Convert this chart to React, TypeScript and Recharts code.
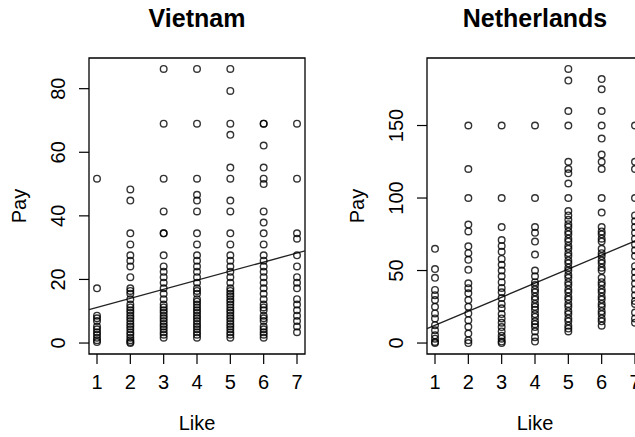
import React from 'react';
import { ScatterChart, Scatter, XAxis, YAxis, ReferenceArea, ReferenceLine } from 'recharts';

const FONT = '"Liberation Sans", Arial, Helvetica, sans-serif';

const likeLevels = [1, 2, 3, 4, 5, 6, 7];
const vietnamTicks = [0, 20, 40, 60, 80];
const netherlandsTicks = [0, 50, 100, 150];

// Vietnam pay values by Like level
const vnLike1 = [0.3, 0.9, 1.7, 2.6, 3.4, 4.3, 5.2, 6.9, 7.8, 8.6, 17.2, 51.7];
const vnLike2 = [0, 0.3, 0.9, 1.7, 2.6, 3.4, 4.3, 5.2, 6.0, 6.9, 7.8, 8.6, 9.5, 10.3, 11.2, 12.1, 13.8, 15.5, 16.4, 17.2, 20.7, 24.1, 25.9, 27.6, 31.0, 34.5, 44.8, 48.3];
const vnLike3 = [1.7, 2.6, 3.4, 4.3, 5.2, 6.0, 6.9, 7.8, 8.6, 9.5, 10.3, 11.2, 12.1, 13.8, 15.5, 17.2, 19.0, 20.7, 22.4, 24.1, 27.6, 34.5, 34.5, 41.4, 51.7, 69.0, 86.2];
const vnLike4 = [1.7, 2.6, 3.4, 4.3, 5.2, 6.0, 6.9, 7.8, 8.6, 9.5, 10.3, 11.2, 12.1, 13.0, 13.8, 15.5, 16.4, 17.2, 19.0, 20.7, 22.4, 24.1, 25.9, 27.6, 31.0, 34.5, 41.4, 44.8, 46.6, 51.7, 69.0, 86.2];
const vnLike5 = [1.7, 2.6, 3.4, 4.3, 5.2, 6.0, 6.9, 7.8, 8.6, 9.5, 10.3, 11.2, 12.1, 13.0, 13.8, 14.7, 15.5, 16.4, 17.2, 19.0, 20.7, 22.4, 24.1, 25.9, 27.6, 31.0, 34.5, 41.4, 44.8, 51.7, 55.2, 65.5, 69.0, 79.3, 86.2];
const vnLike6 = [1.7, 2.6, 3.4, 4.3, 5.2, 6.9, 7.8, 8.6, 10.3, 11.2, 12.1, 13.8, 15.5, 17.2, 19.0, 20.7, 22.4, 24.1, 25.9, 27.6, 31.0, 34.5, 37.9, 41.4, 50.0, 51.7, 55.2, 62.1, 69.0, 69.0];
const vnLike7 = [3.4, 5.2, 6.9, 8.6, 10.3, 12.1, 13.8, 17.2, 19.0, 20.7, 24.1, 27.6, 32.8, 34.5, 51.7, 69.0];

// Netherlands pay values by Like level
const nlLike1 = [0, 0.7, 3, 5.3, 8.8, 12.3, 17, 20.4, 25, 29.6, 33, 36.6, 45, 51, 65];
const nlLike2 = [0, 1.9, 6.5, 11.2, 15.8, 20.4, 25, 29.6, 34.3, 37.8, 41.2, 50.5, 57.4, 62, 66.7, 77, 81.7, 100, 120, 150];
const nlLike3 = [0, 1, 3, 5, 8, 11, 14, 17, 20, 24, 27, 31, 35, 38, 42, 46, 50, 54, 58, 63, 67, 71, 80, 100, 150];
const nlLike4 = [1, 4, 8, 11, 13, 15, 18, 20, 23, 25, 27, 30, 32, 35, 37, 40, 42, 46, 50, 61, 70, 76, 80, 100, 150];
const nlLike5 = [8, 10, 12, 15, 17, 20, 22, 25, 27, 30, 32, 35, 37, 40, 42, 45, 47, 50, 52, 55, 57, 60, 62, 65, 67, 70, 72, 75, 77, 80, 82, 85, 88, 91, 100, 110, 117, 120, 125, 150, 160, 181, 189];
const nlLike6 = [12, 15, 17, 20, 22, 25, 27, 30, 32, 35, 37, 40, 42, 45, 50, 52, 55, 57, 60, 62, 65, 70, 72, 75, 77, 80, 90, 100, 120, 125, 130, 141, 150, 160, 175, 182];
const nlLike7 = [14, 17, 21, 27, 29, 33, 37, 41, 45, 49, 53, 60, 64, 68, 72, 76, 80, 84, 88, 100, 120, 125, 150];

// Regression lines (intercept, slope)
const vnFit = [8.3, 2.86];
const nlFit = [2.5, 9.7];

const build = (groups: number[][]) =>
  groups.flatMap((vals, i) => vals.map((pay) => ({ like: likeLevels[i], pay })));

const vietnamData = build([vnLike1, vnLike2, vnLike3, vnLike4, vnLike5, vnLike6, vnLike7]);
const netherlandsData = build([nlLike1, nlLike2, nlLike3, nlLike4, nlLike5, nlLike6, nlLike7]);

const extend = (min: number, max: number) => {
  const r = max - min;
  return [min - 0.04 * r, max + 0.04 * r];
};

const Circle = (props: any) => {
  const { cx, cy } = props;
  if (cx == null || cy == null) return null;
  return <circle cx={cx} cy={cy} r={3.3} fill="none" stroke="#000" strokeWidth={1.4} strokeOpacity={0.8} />;
};

const W = 322;
const H = 437;
const M = { top: 58, right: 17, bottom: 23, left: 0 };
const YW = 89;
const XH = 60;
const plotLeft = M.left + YW;
const plotRight = W - M.right;
const plotBottom = H - M.bottom - XH;
const plotTop = M.top;

function Panel({ title, data, ticks, fit, left }: any) {
  const xDom = extend(1, 7);
  const pays = data.map((d: any) => d.pay);
  const yDom = extend(Math.min(...pays), Math.max(...pays));
  const cx = (plotLeft + plotRight) / 2;
  const cy = (plotTop + plotBottom) / 2;
  const YTick = (p: any) => {
    const x = plotLeft - 24;
    return (
      <text x={x} y={p.y} transform={`rotate(-90, ${x}, ${p.y})`} textAnchor="middle" fontFamily={FONT} fontSize={20} fill="#000">
        {p.payload.value}
      </text>
    );
  };
  const XTick = (p: any) => (
    <text x={p.x} y={plotBottom + 35} textAnchor="middle" fontFamily={FONT} fontSize={20} fill="#000">
      {p.payload.value}
    </text>
  );
  return (
    <div style={{ position: 'absolute', left, top: 0, width: W, height: H }}>
      <div style={{ position: 'absolute', left: 0, width: plotLeft + plotRight, top: 0, textAlign: 'center', fontFamily: FONT, fontWeight: 'bold', fontSize: 25, lineHeight: '36px' }}>
        {title}
      </div>
      <ScatterChart width={W} height={H} margin={M} style={{ position: 'absolute', left: 0, top: 0 }}>
        <XAxis
          type="number"
          dataKey="like"
          domain={xDom}
          ticks={likeLevels}
          allowDataOverflow
          axisLine={false}
          tickSize={10}
          tickLine={{ stroke: '#000', strokeWidth: 1.2 }}
          height={XH}
          tick={<XTick />}
          label={{ content: () => (
            <text x={cx} y={430} textAnchor="middle" fontFamily={FONT} fontSize={20} fill="#000">Like</text>
          ) }}
        />
        <YAxis
          type="number"
          dataKey="pay"
          domain={yDom}
          ticks={ticks}
          allowDataOverflow
          axisLine={false}
          tickSize={10}
          tickLine={{ stroke: '#000', strokeWidth: 1.2 }}
          width={YW}
          tick={<YTick />}
          label={{ content: () => (
            <text x={plotLeft - 63} y={cy} transform={`rotate(-90, ${plotLeft - 63}, ${cy})`} textAnchor="middle" fontFamily={FONT} fontSize={20} fill="#000">Pay</text>
          ) }}
        />
        <Scatter data={data} shape={<Circle />} isAnimationActive={false} />
        <ReferenceLine
          segment={[
            { x: xDom[0], y: fit[0] + fit[1] * xDom[0] },
            { x: xDom[1], y: fit[0] + fit[1] * xDom[1] },
          ]}
          stroke="#222"
          strokeWidth={1.3}
          ifOverflow="visible"
        />
        <ReferenceArea x1={xDom[0]} x2={xDom[1]} y1={yDom[0]} y2={yDom[1]} fill="none" fillOpacity={0} stroke="#000" strokeWidth={1.3} ifOverflow="visible" />
      </ScatterChart>
    </div>
  );
}

export default function App() {
  return (
    <div style={{ position: 'fixed', left: 0, top: 0, width: 635, height: 437, overflow: 'hidden', background: '#fff' }}>
      <Panel title="Vietnam" data={vietnamData} ticks={vietnamTicks} fit={vnFit} left={0} />
      <Panel title="Netherlands" data={netherlandsData} ticks={netherlandsTicks} fit={nlFit} left={338} />
    </div>
  );
}
